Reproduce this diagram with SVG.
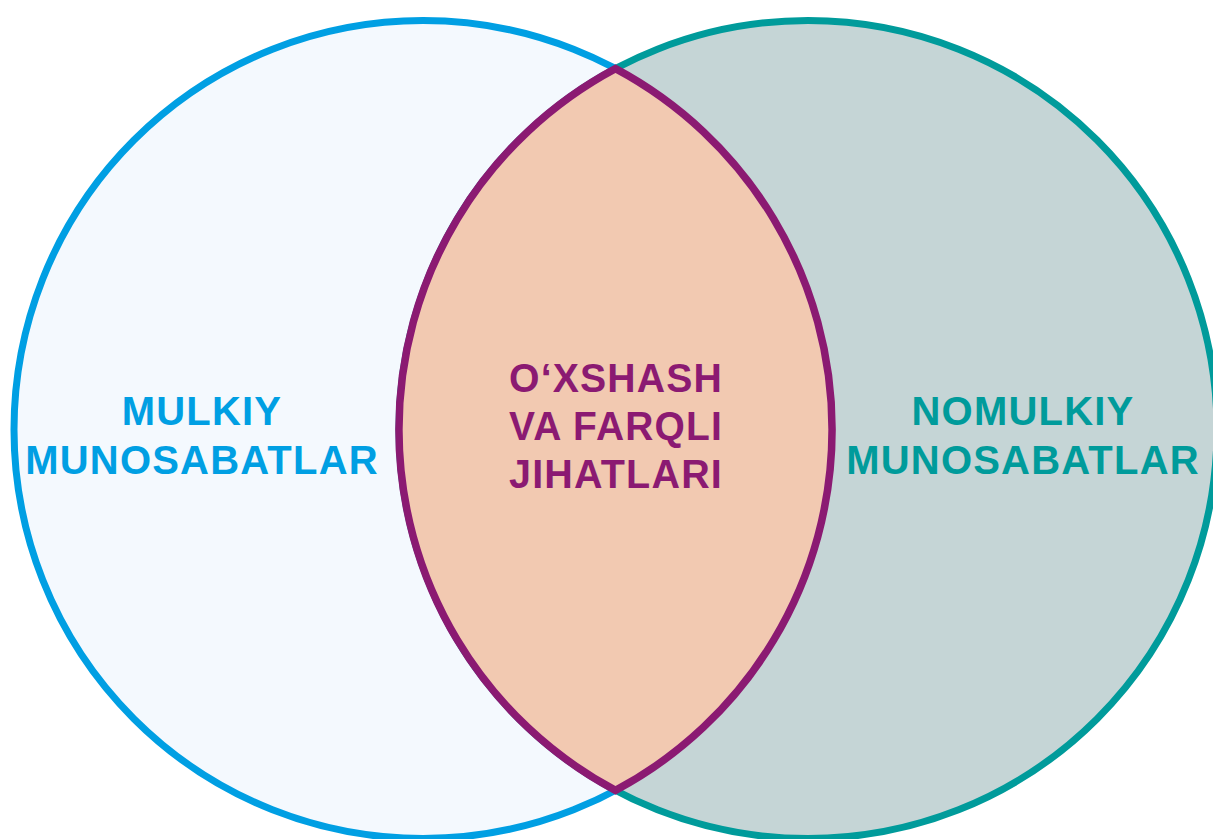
<svg xmlns="http://www.w3.org/2000/svg" width="1213" height="839" viewBox="0 0 1213 839">
<style>
.lbl{font-family:"Liberation Sans",Arial,sans-serif;font-weight:bold;font-size:40px;letter-spacing:1.2px;text-anchor:middle}
</style>
<rect width="1213" height="839" fill="#ffffff"/>
<g id="left">
<circle cx="423" cy="429.5" r="409" fill="#F4F9FE" stroke="#009FE3" stroke-width="7"/>
</g>
<g id="right">
<circle cx="808" cy="429.5" r="409" fill="#C5D5D6" stroke="#009B9B" stroke-width="7"/>
</g>
<g id="lens">
<path d="M615.5 68.6 A409 409 0 0 1 615.5 790.4 A409 409 0 0 1 615.5 68.6 Z" fill="#F2C9B1" stroke="#8B1A72" stroke-width="7.5" stroke-linejoin="miter" stroke-miterlimit="10"/>
</g>
<g id="left-label" fill="#009FE3">
<text x="202" y="425" class="lbl">MULKIY</text>
<text x="202" y="474" class="lbl">MUNOSABATLAR</text>
</g>
<g id="lens-label" fill="#8B1A72">
<text x="616" y="392" class="lbl" textLength="214" lengthAdjust="spacingAndGlyphs">O‘XSHASH</text>
<text x="616" y="440" class="lbl" textLength="214" lengthAdjust="spacingAndGlyphs">VA FARQLI</text>
<text x="616" y="488" class="lbl" textLength="214" lengthAdjust="spacingAndGlyphs">JIHATLARI</text>
</g>
<g id="right-label" fill="#009B9B">
<text x="1023" y="425" class="lbl">NOMULKIY</text>
<text x="1023" y="474" class="lbl">MUNOSABATLAR</text>
</g>
<g id="connectors"/>
</svg>
